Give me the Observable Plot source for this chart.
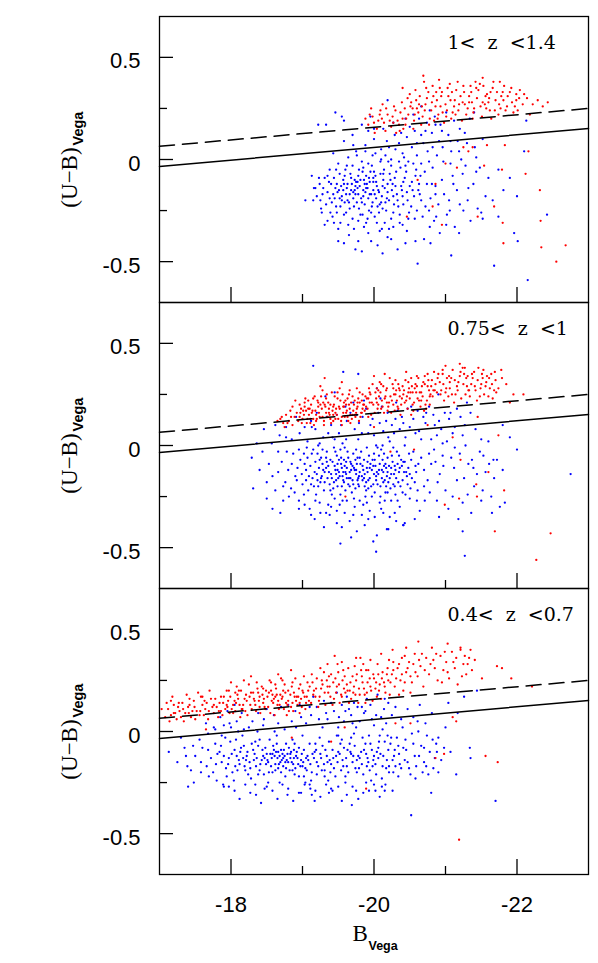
<!DOCTYPE html>
<html>
<head>
<meta charset="utf-8">
<script src="https://cdn.jsdelivr.net/npm/d3@7"></script>
<script src="https://cdn.jsdelivr.net/npm/@observablehq/plot@0.6"></script>
<style>
  html, body { margin: 0; padding: 0; background: #fff; }
  #chart { position: relative; width: 598px; height: 963px; }
  #chart > div { position: absolute; left: 0; }
  text.pl { white-space: pre; }
</style>
</head>
<body>
<div id="chart"></div>
<script>
// ---------- data (points written as |B|×100, (U-B)×100) ----------
const panelLabels = ["1<  z  <1.4", "0.75<  z  <1", "0.4<  z  <0.7"];
const xMajorTicks = [-18, -20, -22];
const xMinorTicks = [-19, -21];
const yMajorTicks = [0.5, 0, -0.5];
const yMinorTicks = [0.25, -0.25];
const lineB = [-17, -23];
const dashedUB = [0.065, 0.25];
const solidUB = [-0.034, 0.152];

const blueHigh = `1962,-14 1975,-11 1988,-16 1993,-9 2004,-13 2011,-18 2019,-12 1998,-21 1984,-6 1971,-19 1957,-10 1949,-16 1966,-24 1980,-13 1991,-14 2002,-8 2014,-5 2025,-15 2033,-20 2041,-11 1996,-17 1987,-22 1978,-8 1969,-12 1954,-13 1945,-19 1959,-21 1973,-15 1985,-18 2008,-22 2017,-25 2029,-9 2037,-4 2046,-16 2052,-23 2058,-8 1999,-11 2006,-15 1993,-25 1981,-27 1967,-7 1952,-7 1940,-12 1935,-16 1944,-9 1961,-17 1976,-21 1990,-12 2013,-10 2021,-20 2030,-13 2045,-6 2056,-18 2063,-12 1997,-3 2009,-1 1983,-1 1970,-3 2024,-3 2036,-27 2048,-29 2001,-28 1989,-31 1958,-27 1947,-23 1938,-5 1929,-14 1925,-20 1931,-9 1950,-2 1964,1 1978,-30 2015,-31 2027,-26 2041,-22 2055,-2 2066,-20 2071,-6 2003,-19 1995,-6 2019,-16 1986,-10 1974,-17 1960,-5 1948,-12 2012,-13 2032,-17 2043,-9 2050,-13 2060,-25 1992,-19 1979,-24 2007,-26 2022,-7 1968,-9 1955,-18 1941,-21 2035,-1 1998,2 2011,-34 1972,-34 1939,-26 2062,-15 2068,-28 2074,-12 2079,-19 1918,-14 1923,-9 2038,-13 2016,-21 1985,-15 1977,-11 1963,-20 1953,-23
1975,4 1988,7 2002,3 2018,9 2030,5 2046,11 2057,14 2069,8 2081,13 2093,17 2104,12 2112,19 2120,15 2085,21 2074,18 2063,20 2050,16 2038,13 2027,18 2013,15 2000,10 1992,14 1983,17 1970,12 2096,6 2108,4 2117,9 2127,13 2134,20 2141,6 2060,2 2042,1 2024,0 2088,2 2101,23 2078,24 2055,22 1995,21 1958,19 1946,23 1933,17 2066,26 2140,23 2152,10 2010,5 2035,8 2075,4 2091,9 2048,-1
2082,-4 2095,-10 2107,-2 2116,-15 2124,-7 2131,-20 2090,-22 2102,-27 2113,-33 2125,-25 2139,-12 2148,-4 2156,-18 2098,-17 2086,-13 2110,-8 2122,0 2135,-30 2145,-24 2160,-9 2078,-33 2092,-36 2077,-1 2087,-28 2105,-20 2119,-36 2152,-29 2166,-20 2143,1 2128,-3
1965,-37 1978,-40 1992,-36 2005,-42 2019,-38 2033,-44 2046,-35 2058,-40 1983,-45 2012,-46 2070,-39 1950,-34 1944,-31 2040,-32 2027,-33 1958,-41
2242,-27 2200,-18 2181,-15 2215,-59 2168,-52 2108,-47 2061,-51 2196,-36 2201,-40 2174,-28 2150,-26 1916,-14 1904,-20 1922,17 1955,21 2174,-5 2190,-9 2210,4 1935,-30 1926,-24 2019,29 2213,19
1951,-15 1963,-12 1977,-14 1982,-19 1994,-11 2007,-16 2015,-14 2023,-10 1959,-8 1971,-16 1989,-8 2003,-11 1946,-14 1999,-15 1987,-12 1974,-13 1966,-17 2010,-21 2027,-18 2039,-15 1955,-20 1943,-17 1983,-21 1996,-26 2013,-7 2034,-23 2047,-20 1961,-26 1979,-5 1992,-2 2020,-1 2044,-3 2059,-5 1937,-11 1928,-17 1933,-22 2053,-11 2064,-17 2072,-23 1970,-29 1986,-33 2004,-31 2024,-29 1953,-31 1942,-28 2000,-6 1976,2 1988,4 2016,2 2031,-6 2049,-26 1968,-15 1958,-12 1981,-10 1994,-17 2005,-23 2018,-19 2028,-22 1962,-3 1947,-5 2054,-15 1935,-8 1920,-18 1927,-26 2065,-8 2081,-12 2077,-25 2086,-17 1991,-29 2008,-35 1964,-32 1948,-26 2021,-34 2036,-31 2044,-41 1972,-23 1984,-27 1997,-23 2012,-24 2001,-17 1989,-14 1978,-17 1965,-21 1957,-15 2009,-7 2026,-12 1999,-9 2040,-18 1973,-10 1985,-4 1952,-19 2066,-2 2057,-29 1938,-19 1924,-12 1915,-20 1913,-8 2084,-30 2010,0 2021,6 2040,3 2060,8 2029,12 2053,6 2066,12 2082,6 2097,-1 2107,9 2119,4 2095,14 2111,-12 2120,-22 2132,-14 2143,-6 2106,-25 1958,9 1943,3 1971,7 2000,15 2044,20 2072,14 2086,17 2130,8 2101,-32 2079,-41 1950,-40 1931,-32 2024,-39 1996,-40 1974,-44`;

const redHigh = `1992,17 1998,21 2004,15 2009,24 2014,18 2019,22 2024,16 2028,26 2033,19 2037,23 2041,15 2045,20 1996,25 2006,19 2016,14 2026,21 2035,17 2043,25 1988,20 2012,27 2031,13 2039,28 2001,13
2048,22 2052,28 2056,19 2060,25 2064,31 2068,21 2072,27 2076,33 2080,24 2084,19 2088,29 2092,35 2096,23 2100,27 2104,31 2108,20 2112,26 2115,34 2050,32 2058,34 2066,17 2074,30 2082,36 2090,22 2098,18 2106,37 2113,29 2062,23 2086,26 2094,31 2070,38 2054,25 2102,24 2078,20 2110,23
2118,24 2121,31 2125,36 2129,22 2133,28 2136,33 2140,25 2144,30 2148,37 2151,21 2155,27 2158,32 2162,24 2166,35 2170,29 2174,22 2178,31 2182,36 2186,26 2190,33 2195,23 2199,29 2204,34 2208,27 2127,27 2146,34 2160,28 2172,33 2184,24 2138,20 2153,36 2164,20 2193,28 2123,19 2142,38 2176,38 2135,36 2157,25
2214,30 2222,27 2229,29 2236,26 2243,28 2218,22 2069,41
2125,6 2158,7 2183,7 2138,6 2216,4 2179,-5 2212,-7 2232,-15 2145,-28 2180,-31 2181,-41 2234,-43 2268,-42 2168,-23 2082,-23 2046,-28 2086,-12 2154,-3 2116,-4 2132,4 2100,-2 2061,-10 2095,-32 2255,-50 2233,-30
2000,18 2008,22 2017,25 2022,19 2030,24 2036,14 2044,17 2051,26 2057,22 2063,27 2071,24 2077,17 2083,31 2089,20 2095,33 2101,21 2107,29 2114,22 2119,27 2126,33 2131,25 2137,28 2143,35 2149,26 2156,31 2163,33 2169,24 2175,27 2181,29 2187,31 2192,35 2197,26 2203,30 2210,32 2047,30 2059,29 2073,35 2087,33 2103,35 2117,38 2133,31 2167,38 2180,33 1994,22 2011,20 2027,18 2040,20 2055,15 2067,26 2081,28 2093,26 2109,33 2124,28 2139,23 2152,28 2161,30 2177,25 2199,32 2040,35 2091,39 2152,40 2201,24`;

const blueMid = `1905,-12 1918,-8 1927,-15 1936,-10 1944,-18 1951,-13 1958,-7 1965,-16 1972,-11 1979,-20 1987,-14 1995,-9 2003,-17 2011,-12 2019,-6 2027,-19 2035,-13 2043,-8 2051,-21 1912,-19 1921,-4 1930,-22 1940,-14 1948,-5 1955,-20 1962,-11 1969,-23 1977,-6 1984,-17 1992,-21 2000,-4 2008,-9 2016,-23 2024,-14 2032,-3 2040,-17 2048,-11 1897,-7 1890,-15 1884,-21 1902,-24 1915,-2 1925,-18 1933,-6 1941,-24 1949,-9 1956,-15 1963,-3 1970,-17 1981,-9 1988,-25 1997,-12 2005,-1 2013,-18 2021,-10 2030,-24 2038,-7 2046,-15 2055,-3 2059,-13 1909,-15 1923,-11 1938,-19 1946,-12 1953,-2 1960,-22 1967,-8 1975,-14 1982,-3 1990,-11 1999,-19 2006,-14 2014,-4 2023,-21 2029,-10 2044,-24 2052,-7 1893,-11 1900,-19 1919,-24 1931,-13 1944,-1 1957,-17 1966,-13 1974,-21 1986,-7 1994,-16 2001,-23 2010,-2 2018,-15 2026,-8 2037,-20 2049,-4 2057,-18 1887,-4 1906,-1 1914,-16 1928,-9 1935,-16 1950,-16 1959,-10 1964,-19 1978,-16 1985,-12 1993,-5 2009,-20 2017,-11 2031,-16 2042,-13 2058,-10 1903,-9 1917,-13 1926,-6 1942,-8 1949,-20 1961,-14 1971,-4 1980,-13 1989,-18 2002,-10 2015,-17 2025,-5 2036,-11 2047,-19 1895,-2 1908,-22 1922,-20 1934,-3 1947,-14 1954,-9 1968,-12 1976,-9 1991,-8 2004,-13 2012,-7 2020,-18 2033,-9 2050,-14 2061,-22 2066,-6 2070,-12 2075,-17 2080,-9 1880,-12 1876,-18 1871,-8
1885,3 1896,6 1907,2 1918,8 1929,4 1940,10 1951,6 1962,12 1973,8 1984,14 1995,10 2006,16 2017,12 2028,6 2039,14 2050,9 2061,17 2072,11 2083,15 2094,8 2105,13 2116,18 2127,10 1912,12 1934,14 1956,1 1967,16 1978,3 1989,18 2000,5 2011,19 2022,2 2033,17 2044,4 2055,13 2066,3 2077,19 2088,5 2099,16 2110,6 2121,14 1903,9 1924,1 1945,3 1979,11 1998,13 2013,7 2025,10 2036,8 2047,18 2058,6 2069,14 2091,12 2102,2 2124,5 2135,16 2142,8 2150,3 1960,19 1971,21 1986,22 2009,23 2031,21 1948,15 1920,16 1891,14 1877,9 1868,5 1862,10 1857,1
1895,-27 1910,-31 1924,-28 1938,-34 1952,-29 1966,-37 1980,-27 1994,-32 2008,-28 2022,-35 2036,-30 2050,-26 2064,-32 1917,-36 1945,-26 1959,-33 1973,-30 1987,-39 2001,-35 2015,-27 2029,-33 2043,-38 1903,-29 1930,-40 1962,-27 1976,-42 1990,-28 2004,-44 2057,-36 2071,-27 1940,-30 1955,-40 1968,-45 2018,-41 1983,-34 1948,-38 1925,-33 2010,-31 2033,-27 1997,-25 1999,-47 2041,-39 1953,-48 2003,-52
1829,-6 1831,-21 1850,-26 1846,8 1858,-15 1862,-22 1866,-3 1853,-9 1840,-12 1873,-27 1869,-33 1858,-31 1877,4 1844,-3 1836,1
2084,-2 2092,-14 2100,-22 2108,-6 2116,-17 2124,-28 2132,-9 2140,-20 2148,-3 2156,-13 2164,-25 2172,-7 2088,-27 2104,-31 2120,-4 2136,-33 2152,-22 2168,-16 2180,-12 2112,-11 2096,1 2128,0 2144,-14 2160,2 2176,-30 2091,-35 2078,-23 2086,-8
2127,-54 2124,-42 2165,-33 2183,-28 2167,-7 2153,-5 2137,-7 2131,-24 2041,-39 2020,-41 2275,-14 2190,4 2200,-2 2180,10 1915,39 1957,36 1978,35 1945,26 1932,24 2004,28 2090,25 2130,21
1911,-10 1920,-14 1929,-12 1937,-13 1945,-10 1952,-15 1960,-13 1968,-9 1975,-12 1983,-15 1991,-13 1998,-7 2007,-12 2014,-10 2022,-16 2030,-12 1916,-20 1926,-16 1939,-7 1947,-17 1955,-11 1962,-16 1970,-10 1978,-19 1986,-16 1994,-11 2003,-15 2011,-16 2019,-13 2028,-14 2039,-10 1907,-6 1924,-7 1943,-21 1951,-7 1966,-20 1980,-6 1989,-22 2000,-14 2016,-9 2034,-18 2053,-16 1899,-14 1931,-18 1958,-18 1973,-12 2001,-7 2024,-11 2045,-13 1913,-4 1934,-8 1964,-6 1984,-10 1996,-20 2007,-5 2035,-5 1892,-17 1905,-17 1921,-17 1939,-22 1953,-24 1971,-19 1987,-20 2013,-13 2029,-20 1957,-13 1961,-8 1949,-12 1941,-16 1967,-16 1974,-7 1979,-15 1992,-17 2005,-19 2019,-23 1928,-2 1946,-3 1959,-1 1975,-2 1990,-1 2012,0 2027,-1 2043,0 2062,-9 2070,-20 2077,-4 2089,-18 2097,-10 1885,-9 1878,-3 1889,-23 1918,-27 1936,-29 1956,-27 1972,-26 1985,-29 2009,-25 2024,-27 2040,-23 2060,-27 1933,-11 1954,-6 1977,-17 1999,-10 2017,-20 2041,-8 1902,-4 1922,0 1942,4 1961,3 1983,6 2003,0 2020,4 2041,11 2063,7 2085,10 2107,16 2080,3 2096,-5 2113,-1 2126,-16 2139,-11 2150,-27 2110,-25 2118,-36 2161,-9 1895,-31 1912,-34 1933,-33 1948,-32 1971,-34 1992,-36 2013,-33 2031,-37 1881,-25 1866,-13 1873,-20 1850,-18 1913,9 1936,6 1954,10 1976,15 1992,6 2008,11 2019,16 2030,13 2052,19 2073,16 2113,9`;

const redMid = `1869,13 1873,11 1877,15 1881,12 1886,10 1889,14 1892,16 1875,9 1883,17 1865,12
1894,12 1897,16 1900,13 1903,19 1906,11 1909,15 1912,20 1915,13 1918,17 1921,22 1924,14 1927,18 1930,12 1933,16 1936,21 1939,13 1942,17 1945,24 1948,15 1951,19 1954,12 1957,16 1960,22 1963,14 1966,18 1969,13 1972,20 1975,16 1978,23 1981,14 1984,18 1896,20 1902,15 1908,22 1914,17 1920,13 1926,24 1932,19 1938,15 1944,20 1950,13 1956,25 1962,17 1968,21 1974,14 1980,26 1899,11 1905,17 1911,13 1917,24 1923,16 1929,21 1935,14 1941,26 1947,18 1953,22 1959,14 1965,25 1971,17 1977,19 1983,22 1904,23 1916,10 1928,27 1940,11 1952,28 1964,12 1976,28 1910,18 1922,19 1934,25 1946,13 1958,19 1970,24 1982,16 1898,18 1913,16 1937,18 1949,23 1961,20 1973,15 1985,20 1919,12 1943,15 1967,15 1979,12 1925,29 1955,31 1931,33 1890,22 1886,19
1987,17 1990,23 1993,28 1996,15 1999,20 2002,26 2005,18 2008,31 2011,22 2014,16 2017,27 2020,19 2023,24 2026,30 2029,17 2032,22 2035,28 2038,20 2041,25 2044,32 2047,18 2050,23 2053,29 2056,21 2059,26 2062,33 2065,19 2068,24 2071,30 2074,22 2077,27 1989,19 1995,25 2001,16 2007,24 2013,29 2019,17 2025,22 2031,27 2037,15 2043,21 2049,28 2055,17 2061,23 2067,29 2073,18 2079,25 1992,14 1998,30 2004,21 2010,18 2016,24 2022,33 2028,25 2034,18 2040,29 2046,24 2052,15 2058,30 2064,26 2070,17 2076,32 2000,34 2015,35 2030,32 2045,36 2060,34 2075,35 1994,21 2006,27 2018,21 2024,16 2036,24 2048,31 2054,26 2066,22 2078,20
2082,24 2086,30 2090,35 2094,27 2098,22 2102,33 2106,28 2110,37 2114,25 2118,31 2122,23 2126,35 2130,29 2134,24 2138,33 2142,27 2146,38 2150,30 2154,25 2158,34 2162,28 2166,23 2170,32 2084,36 2092,31 2100,26 2108,33 2116,29 2124,38 2132,27 2140,36 2148,24 2156,29 2164,35 2088,26 2096,37 2104,24 2112,21 2120,34 2128,25 2136,30 2144,22 2152,33 2160,24 2168,27 2120,40 2100,39 2080,29
2195,25 2209,25 2185,30 2178,37 2190,21
2121,-7 2143,-19 2144,-25 2182,-22 2169,-42 2099,-29 2119,-26 2023,-3 2056,-2 2000,9 2247,-43 2227,-56 2160,-13 2174,5 2110,4 1960,-25 2075,10 2145,14
1896,14 1901,17 1907,13 1911,11 1919,15 1922,21 1928,14 1931,20 1937,16 1943,19 1946,16 1952,18 1955,14 1958,21 1961,16 1965,20 1970,15 1973,22 1976,18 1980,21 1983,16 1986,20 1988,24 1991,18 1994,26 1997,21 2003,23 2006,20 2009,26 2012,19 2015,23 2018,28 2021,21 2027,20 2030,25 2033,19 2036,27 2039,23 2042,27 2045,22 2051,26 2054,20 2057,28 2063,22 2066,26 2069,31 2072,20 2075,29 2078,24 2081,32 2085,27 2089,33 2093,25 2097,30 2101,28 2105,34 2109,25 2113,32 2117,27 2121,36 2125,30 2129,33 2133,27 2137,35 2141,29 2145,32 2149,28 2153,37 2157,31 2161,33 2165,30 2169,36 2174,28 1908,18 1925,20 1939,20 1957,19 1963,23 1977,21 1992,23 2004,28 2027,28 2048,26 2060,29 2083,27 2106,31 2131,34 1884,14 1879,11 1871,14 1903,21 1915,23 1933,23 1949,26 1966,27 1984,25 2010,30 2034,30 2052,33 2071,34 2096,35 2127,38 2151,35 2171,26 2179,33 1967,11 1955,10 1943,12 1930,10`;

const blueLow = `1760,-8 1772,-13 1784,-10 1796,-16 1808,-12 1820,-19 1832,-14 1844,-9 1856,-17 1868,-12 1880,-15 1892,-10 1904,-18 1916,-13 1928,-7 1940,-16 1952,-11 1964,-20 1976,-14 1988,-6 2000,-12 2012,-17 1766,-17 1778,-6 1790,-12 1802,-20 1814,-8 1826,-15 1838,-21 1850,-11 1862,-16 1874,-9 1886,-19 1898,-14 1910,-6 1922,-17 1934,-12 1946,-22 1958,-8 1970,-15 1982,-10 1994,-19 2006,-8 2018,-14 1775,-20 1787,-15 1799,-5 1811,-14 1823,-10 1835,-17 1847,-13 1859,-7 1871,-14 1883,-11 1895,-22 1907,-12 1919,-9 1931,-19 1943,-13 1955,-4 1967,-10 1979,-18 1991,-13 2003,-21 2015,-5 1781,-11 1793,-18 1805,-9 1817,-13 1829,-6 1841,-16 1853,-20 1865,-13 1877,-18 1889,-6 1901,-15 1913,-20 1925,-11 1937,-5 1949,-15 1961,-13 1973,-7 1985,-21 1997,-9 2009,-11 2021,-20 1750,-12 1744,-19 1756,-4 1768,-1 1780,-24 1792,-3 1804,-24 1816,-2 1828,-23 1840,-4 1852,-25 1864,-2 1876,-22 1888,-13 1900,-2 1912,-24 1924,-3 1936,-24 1948,-2 1960,-25 1972,-1 1984,-3 1996,-24 2008,-2 2020,-9 1863,-10 1869,-15 1875,-12 1881,-8 1857,-13 1887,-16 1851,-14 1893,-13 1845,-12 1899,-11 1878,-14 1866,-18 1884,-10 1872,-11 1860,-9 1890,-18 1833,-11 1911,-16 1827,-18 1917,-10 1821,-14 1905,-13
1765,4 1785,7 1800,2 1815,9 1830,5 1845,3 1860,8 1875,1 1890,10 1905,4 1920,12 1935,6 1950,2 1965,11 1980,5 1995,13 2010,7 2020,14 1912,8 1928,2 1944,10 1958,5 1972,14 1986,9 2000,3 2014,11 1885,5 1870,12 1850,11 1825,2 1795,10 1778,1 1940,14 1962,17 1975,2 1990,16 2005,18 2017,4 1955,13 1898,7 1838,9 1808,5 1790,3 1968,8 1983,12 1997,6 2012,1 1930,15 1880,13 1948,19 1915,17 1805,13
1790,-27 1805,-29 1820,-26 1835,-31 1850,-27 1865,-33 1880,-28 1895,-30 1910,-26 1925,-32 1940,-28 1955,-34 1970,-27 1985,-30 2000,-26 2015,-29 1842,-35 1872,-26 1898,-30 1903,-26 1918,-29 1950,-27 1962,-31 1978,-33 1993,-29 2008,-32 1827,-30 1812,-33 1858,-29 1887,-34 1933,-26
1969,-36 1913,-31 1917,-34 1942,-29 2170,-34 2080,-30 2052,-41 2026,-29 2016,-26 2011,-27
1713,-10 1735,-8 1737,-12 1725,-15 1748,-25 1730,-3 1740,-27
2023,-6 2028,-12 2032,-3 2036,-16 2040,2 2045,-9 2049,-18 2053,-1 2057,-12 2061,5 2066,-7 2070,-15 2074,-2 2078,-10 2083,-18 2087,-6 2025,8 2030,12 2038,6 2047,11 2055,7 2064,13 2072,4 2081,9 2027,-20 2034,-22 2043,-14 2051,-21 2059,-17 2068,-20 2076,-21 2085,-13 2021,-17 2029,-9 2035,-11 2044,-4 2024,-3 2038,-18 2062,0 2090,-3 2098,-8 2094,-14 2107,-10 2100,2
2134,-8 2135,-13 2144,20 2126,17 2117,9 2104,14 2090,-20 2115,-21
1801,-11 1812,-16 1822,-12 1836,-13 1843,-14 1855,-11 1861,-12 1867,-16 1873,-13 1879,-11 1885,-15 1891,-12 1897,-17 1902,-9 1908,-14 1914,-11 1920,-15 1926,-13 1932,-9 1938,-14 1944,-18 1950,-10 1956,-14 1962,-17 1968,-11 1974,-18 1980,-13 1986,-9 1992,-15 1998,-17 2004,-10 1797,-13 1809,-19 1818,-7 1831,-9 1849,-16 1858,-20 1864,-6 1876,-15 1882,-19 1888,-9 1894,-16 1906,-19 1918,-6 1930,-16 1942,-9 1954,-19 1966,-6 1978,-12 1990,-17 2002,-16 1786,-7 1794,-22 1807,-4 1824,-21 1838,-7 1854,-4 1870,-20 1886,-4 1902,-22 1920,-21 1939,-20 1957,-17 1976,-20 1995,-6 2013,-12 1779,-16 1768,-9 1758,-15 1747,-7 1739,-17 1883,-13 1870,-9 1862,-19 1858,-11 1848,-8 1840,-19 1877,-6 1895,-8 1900,-17 1889,-21 1873,-17 1866,-10 1852,-15 1846,-21 1834,-5 1819,-17 1806,-17 1813,-10 1927,-19 1947,-12 1963,-9 1983,-16 1999,-14 2017,-18 1935,-15 1953,-6 1971,-12 1989,-11 2006,-13 1797,-27 1834,-26 1868,-25 1904,-25 1931,-22 1960,-22 1989,-25 2011,-23 1776,2 1798,4 1818,1 1846,6 1866,4 1891,2 1910,12 1933,9 1951,7 1970,4 1988,10 2003,8 2015,16 1977,12 1960,10 1923,6 1896,13 1861,0 1837,0 1810,0 1787,-2 1950,-2 1968,-3 1993,-2 2007,-5 2026,-14 2041,-8 2055,-6 2063,-12 2073,-17 2082,-4 2047,-15 2034,-7 2019,-2 2030,-17 2058,-23 2070,-8 2088,-10 1847,-28 1879,-31 1911,-28 1937,-30 1975,-29 2002,-29 1769,-22 1758,-20 1789,-26`;

const redLow = `1708,7 1712,11 1716,8 1720,13 1724,6 1728,10 1732,14 1736,9 1740,12 1744,7 1748,15 1752,10 1756,8 1760,13 1764,11 1768,6 1772,16 1776,9 1780,12 1784,14 1788,8 1792,11 1710,14 1718,17 1726,12 1734,5 1742,16 1750,6 1758,17 1766,14 1774,12 1782,7 1790,17 1714,5 1730,7 1746,10 1762,8 1778,16 1786,10 1754,19 1770,20 1738,18 1722,9 1703,11 1798,9 1796,15 1794,20
1795,12 1799,17 1803,9 1807,14 1811,20 1815,11 1819,16 1823,8 1827,13 1831,19 1835,10 1839,15 1843,22 1847,12 1851,17 1855,9 1859,14 1863,21 1867,11 1871,16 1875,23 1879,13 1883,18 1887,10 1891,15 1895,21 1899,12 1903,17 1907,24 1797,20 1805,15 1813,7 1821,18 1829,11 1837,21 1845,14 1853,19 1861,8 1869,18 1877,14 1885,22 1893,13 1901,19 1909,15 1801,11 1809,18 1817,13 1825,23 1833,15 1841,9 1849,20 1857,15 1865,13 1873,20 1881,10 1889,17 1897,23 1905,14 1800,24 1818,25 1836,24 1854,25 1872,25 1890,26 1908,20 1812,13 1826,17 1840,12 1858,18 1866,15 1880,20 1894,17 1904,11 1820,10 1848,11 1874,11 1886,14 1898,16 1862,17 1832,16 1844,18 1808,22 1828,27 1866,28 1884,30 1856,24 1896,9 1806,10 1878,8
1912,14 1916,20 1920,26 1924,17 1928,23 1932,13 1936,19 1940,28 1944,16 1948,22 1952,14 1956,25 1960,19 1964,31 1968,16 1972,22 1976,28 1980,18 1984,24 1988,14 1992,30 1996,20 2000,26 2004,17 2008,23 2012,29 2016,19 2020,25 1914,24 1922,12 1930,29 1938,22 1946,26 1954,18 1962,23 1970,27 1978,14 1986,21 1994,26 2002,21 2010,16 2018,28 1918,17 1926,21 1934,25 1942,13 1950,29 1958,21 1966,20 1974,18 1982,30 1990,19 1998,15 2006,28 2014,24 2022,18 1935,33 1955,34 1975,36 1995,35 2010,38 1945,37 1985,33 1965,14
2025,28 2029,22 2033,31 2037,25 2041,20 2045,29 2049,34 2053,24 2057,38 2061,27 2065,32 2069,22 2073,36 2077,28 2081,41 2085,31 2089,25 2093,37 2097,30 2101,34 2105,26 2109,39 2113,31 2117,23 2121,40 2125,33 2129,28 2133,36 2137,30 2141,35 2027,34 2035,18 2043,37 2051,19 2063,35 2071,30 2079,33 2087,38 2095,24 2103,29 2115,36 2123,27 2131,33 2062,44 2121,41 2103,43 2026,40 2045,41
2172,32 2179,31 2192,26 2221,22 2151,26
2115,5 2156,-12 2098,-11 2086,-13 2119,-53 2051,4 1989,-28 2030,4 1885,-3 1940,-5 2110,7 2173,-15 1959,2 1765,1
1720,9 1727,14 1733,11 1741,9 1749,12 1757,10 1763,15 1769,10 1776,13 1783,10 1789,14 1794,13 1803,13 1810,16 1816,11 1822,15 1828,19 1834,13 1840,17 1846,16 1852,12 1856,20 1860,16 1864,18 1868,13 1872,17 1876,19 1880,15 1884,12 1888,19 1892,17 1896,14 1900,20 1906,17 1910,22 1915,18 1919,21 1923,15 1927,25 1931,19 1935,22 1939,17 1943,24 1947,19 1951,23 1955,17 1959,27 1963,20 1967,24 1971,19 1975,25 1979,21 1983,27 1987,18 1991,24 1995,22 1999,28 2003,24 2007,20 2011,26 2015,22 2019,31 2023,24 2027,30 2031,26 2035,33 2039,28 2043,24 2047,31 2051,27 2055,33 1814,20 1838,19 1862,23 1886,24 1913,28 1937,27 1957,30 1973,32 1989,30 2005,33 2021,35 2039,36 2058,29 2067,38 2083,35 2099,39 2111,34 2127,37 2135,40 1806,19 1845,21 1870,26 1902,27 1925,31 1949,33 1981,36 1786,17 1760,17 1742,13 1716,15`;

// ---------- helpers ----------
const parse = s => s.trim().split(/\s+/).map(p => {
  const [a, b] = p.split(",");
  return {B: -(+a) / 100, UB: (+b) / 100};
});
const lineRows = ub => lineB.map((b, i) => ({B: b, UB: ub[i]}));

const W = 598, ML = 159, MR = 10, PH = 286;
const innerW = W - ML - MR;
const serif = "'Liberation Serif', 'Times New Roman', serif";
const sans = "'Liberation Sans', Arial, sans-serif";

function panel(blue, red, label, isTop, isBottom) {
  const mt = isTop ? 16 : 0, mb = isBottom ? 85 : 0;
  const marks = [
    Plot.dot(parse(blue), {x: "B", y: "UB", r: 1.15, fill: "#0000ff"}),
    Plot.dot(parse(red), {x: "B", y: "UB", r: 1.15, fill: "#ff0000"}),
    Plot.line(lineRows(dashedUB), {x: "B", y: "UB", stroke: "#000", strokeWidth: 1.5, strokeDasharray: "15,8"}),
    Plot.line(lineRows(solidUB), {x: "B", y: "UB", stroke: "#000", strokeWidth: 1.5}),
    Plot.tickY(yMajorTicks, {y: d => d, insetRight: innerW - 14, stroke: "#000", strokeWidth: 1.3}),
    Plot.tickY(yMinorTicks, {y: d => d, insetRight: innerW - 8, stroke: "#000", strokeWidth: 1.3}),
    Plot.tickX(xMajorTicks, {x: d => d, insetTop: PH - 15, stroke: "#000", strokeWidth: 1.3}),
    Plot.tickX(xMinorTicks, {x: d => d, insetTop: PH - 8, stroke: "#000", strokeWidth: 1.3}),
    Plot.axisY(yMajorTicks, {tickSize: 0, tickPadding: 19, dy: 4, fontSize: 22, fontFamily: sans,
      fill: "#000", tickFormat: d => d === 0 ? "0" : String(d), label: null}),
    Plot.text([label], {text: d => d, frameAnchor: "top-right", dx: -141, dy: 32, textAnchor: "start",
      lineAnchor: "bottom", fontFamily: "'DejaVu Serif', serif", fontSize: 19, fill: "#000", className: "pl"}),
    Plot.text(["(U\u2212B)"], {text: d => d, frameAnchor: "left", rotate: -90, dx: -83, dy: 18,
      textAnchor: "middle", lineAnchor: "bottom", fontFamily: serif, fontSize: 23, fill: "#000"}),
    Plot.text(["Vega"], {text: d => d, frameAnchor: "left", rotate: -90, dx: -77, dy: -31,
      textAnchor: "middle", lineAnchor: "bottom", fontFamily: sans, fontWeight: "bold", fontSize: 14.5, fill: "#000"}),
    Plot.frame({stroke: "#000", strokeWidth: 1.3})
  ];
  if (isBottom) {
    marks.push(
      Plot.axisX(xMajorTicks, {tickSize: 0, tickPadding: 22, fontSize: 22, fontFamily: sans, fill: "#000",
        tickFormat: d => String(d), label: null}),
      Plot.text(["B"], {text: d => d, frameAnchor: "bottom", dx: -21.5, dy: 66, textAnchor: "start",
        lineAnchor: "bottom", fontFamily: serif, fontSize: 23, fill: "#000"}),
      Plot.text(["Vega"], {text: d => d, frameAnchor: "bottom", dx: -5.5, dy: 75, textAnchor: "start",
        lineAnchor: "bottom", fontFamily: sans, fontWeight: "bold", fontSize: 12.5, fill: "#000"})
    );
  }
  return Plot.plot({
    width: W, height: mt + PH + mb,
    marginTop: mt, marginBottom: mb, marginLeft: ML, marginRight: MR,
    x: {domain: [-17, -23], axis: isBottom ? undefined : null},
    y: {domain: [-0.7, 0.7]},
    style: {background: "transparent", overflow: "visible"},
    marks
  });
}

const chart = document.getElementById("chart");
const specs = [
  [blueHigh, redHigh, panelLabels[0], true, false, 0],
  [blueMid, redMid, panelLabels[1], false, false, 16 + PH],
  [blueLow, redLow, panelLabels[2], false, true, 16 + 2 * PH]
];
for (const [b, r, l, t, bt, top] of specs) {
  const wrap = document.createElement("div");
  wrap.style.top = top + "px";
  wrap.appendChild(panel(b, r, l, t, bt));
  chart.appendChild(wrap);
}
</script>
</body>
</html>
